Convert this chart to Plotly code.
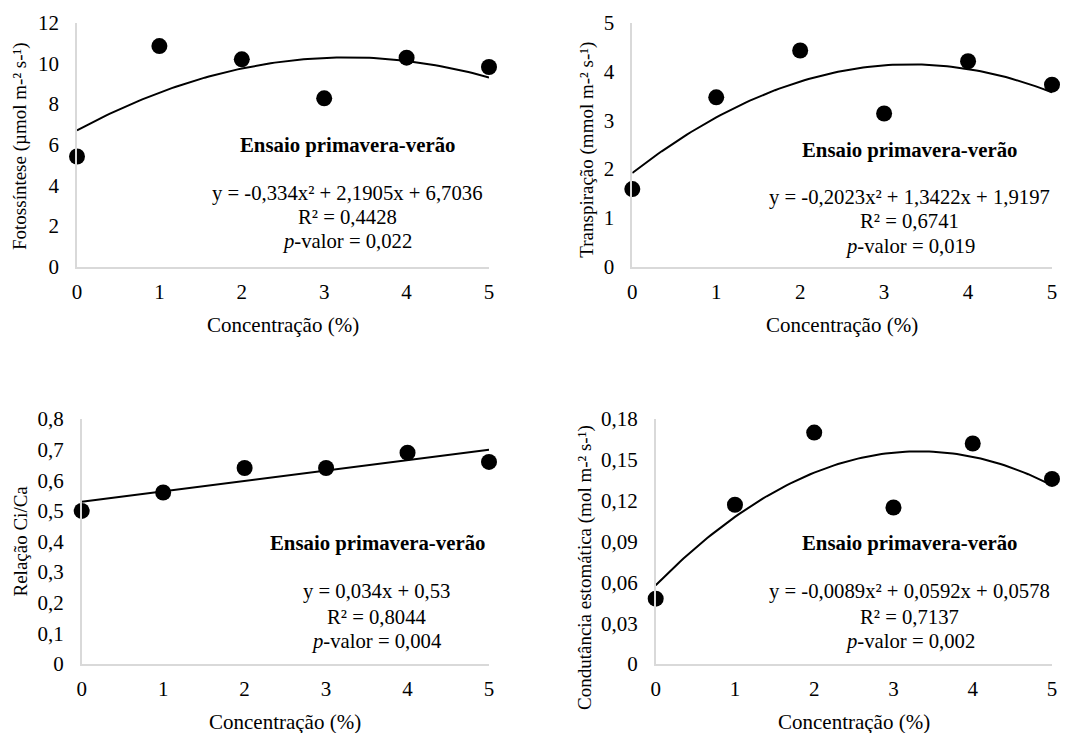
import numpy as np
import plotly.graph_objects as go

W, H = 1084, 733
FONT = "Liberation Serif"

# ---- data ----
conc = [0, 1, 2, 3, 4, 5]
fotossintese = [5.42, 10.85, 10.20, 8.28, 10.28, 9.82]
transpiracao = [1.59, 3.47, 4.43, 3.14, 4.21, 3.73]
ci_ca = [0.50, 0.56, 0.64, 0.64, 0.69, 0.66]
condutancia = [0.048, 0.117, 0.170, 0.115, 0.162, 0.136]

# trendline coefficients (highest power first), as printed on the chart
coef_foto = [-0.334, 2.1905, 6.7036]
coef_trans = [-0.2023, 1.3422, 1.9197]
coef_cica = [0.034, 0.53]
coef_cond = [-0.0089, 0.0592, 0.0578]

eq_foto = ["y = -0,334x² + 2,1905x + 6,7036", "R² = 0,4428", "<i>p</i>-valor = 0,022"]
eq_trans = ["y = -0,2023x² + 1,3422x + 1,9197", "R² = 0,6741", "<i>p</i>-valor = 0,019"]
eq_cica = ["y = 0,034x + 0,53", "R² = 0,8044", "<i>p</i>-valor = 0,004"]
eq_cond = ["y = -0,0089x² + 0,0592x + 0,0578", "R² = 0,7137", "<i>p</i>-valor = 0,002"]

ytitles = ["Fotossíntese (µmol m-² s-¹)", "Transpiração (mmol m-² s-¹)",
           "Relação Ci/Ca", "Condutância estomática (mol m-² s-¹)"]
xtitle = "Concentração (%)"
label = "<b>Ensaio primavera-verão</b>"

yt_foto = [0, 2, 4, 6, 8, 10, 12]
yt_trans = [0, 1, 2, 3, 4, 5]
yt_cica = [0, 0.1, 0.2, 0.3, 0.4, 0.5, 0.6, 0.7, 0.8]
yt_cica_txt = ["0", "0,1", "0,2", "0,3", "0,4", "0,5", "0,6", "0,7", "0,8"]
yt_cond = [0, 0.03, 0.06, 0.09, 0.12, 0.15, 0.18]
yt_cond_txt = ["0", "0,03", "0,06", "0,09", "0,12", "0,15", "0,18"]


def px(x):
    return x / W


def py(y):
    return 1 - y / H


panels = [
    dict(y=fotossintese, coef=coef_foto, eq=eq_foto, title=ytitles[0],
         xd=(77, 489), yd=(22.7, 266.7), yr=[0, 12], tv=yt_foto, tt=[str(v) for v in yt_foto],
         ytx=(20, 146), xtx=(283, 325), lab=(347, 145), eqc=(347, [193.3, 216.7, 241.7])),
    dict(y=transpiracao, coef=coef_trans, eq=eq_trans, title=ytitles[1],
         xd=(632.3, 1052), yd=(22.7, 266.7), yr=[0, 5], tv=yt_trans, tt=[str(v) for v in yt_trans],
         ytx=(586.7, 150), xtx=(842, 325), lab=(909.5, 150), eqc=(909.5, [197.7, 221, 246.7])),
    dict(y=ci_ca, coef=coef_cica, eq=eq_cica, title=ytitles[2],
         xd=(81.7, 489), yd=(419, 664), yr=[0, 0.8], tv=yt_cica, tt=yt_cica_txt,
         ytx=(20, 541.5), xtx=(285, 721.7), lab=(377.8, 543.3), eqc=(376.7, [591.7, 616.7, 641])),
    dict(y=condutancia, coef=coef_cond, eq=eq_cond, title=ytitles[3],
         xd=(655.7, 1052), yd=(419, 664), yr=[0, 0.18], tv=yt_cond, tt=yt_cond_txt,
         ytx=(585, 568), xtx=(854, 721.7), lab=(909.5, 543.3), eqc=(909.5, [591.7, 616.7, 641])),
]

fig = go.Figure()
annotations = []
xfit = np.linspace(0, 5, 101)

for i, p in enumerate(panels, start=1):
    xa = "x" if i == 1 else f"x{i}"
    ya = "y" if i == 1 else f"y{i}"
    fig.add_trace(go.Scatter(x=xfit, y=np.polyval(p["coef"], xfit), mode="lines",
                             line=dict(color="black", width=2), xaxis=xa, yaxis=ya,
                             showlegend=False, hoverinfo="skip"))
    fig.add_trace(go.Scatter(x=conc, y=p["y"], mode="markers",
                             marker=dict(color="black", size=16), xaxis=xa, yaxis=ya,
                             showlegend=False, cliponaxis=False))
    xkey = "xaxis" if i == 1 else f"xaxis{i}"
    ykey = "yaxis" if i == 1 else f"yaxis{i}"
    fig.layout[xkey] = dict(
        domain=[px(p["xd"][0]), px(p["xd"][1])], range=[0, 5], anchor=ya, automargin=False,
        showgrid=False, zeroline=False, showline=True, linecolor="#d9d9d9", linewidth=1.5,
        tickvals=conc, ticktext=[str(c) for c in conc], ticks="outside", ticklen=5,
        tickcolor="rgba(0,0,0,0)", tickfont=dict(family=FONT, size=21, color="black"),
    )
    fig.layout[ykey] = dict(
        domain=[py(p["yd"][1]), py(p["yd"][0])], range=p["yr"], anchor=xa, automargin=False,
        showgrid=False, zeroline=False, showline=True, linecolor="#d9d9d9", linewidth=1.5,
        tickvals=p["tv"], ticktext=p["tt"], ticks="outside", ticklen=12,
        tickcolor="rgba(0,0,0,0)", tickfont=dict(family=FONT, size=21, color="black"),
    )
    annotations.append(dict(x=px(p["ytx"][0]), y=py(p["ytx"][1]), xref="paper", yref="paper",
                            text=p["title"], textangle=-90, showarrow=False,
                            font=dict(family=FONT, size=19, color="black"),
                            xanchor="center", yanchor="middle"))
    annotations.append(dict(x=px(p["xtx"][0]), y=py(p["xtx"][1]), xref="paper", yref="paper",
                            text=xtitle, showarrow=False,
                            font=dict(family=FONT, size=21, color="black"),
                            xanchor="center", yanchor="middle"))
    annotations.append(dict(x=px(p["lab"][0]), y=py(p["lab"][1]), xref="paper", yref="paper",
                            text=label, showarrow=False,
                            font=dict(family=FONT, size=20.8, color="black"),
                            xanchor="center", yanchor="middle"))
    for line, yy in zip(p["eq"], p["eqc"][1]):
        annotations.append(dict(x=px(p["eqc"][0]), y=py(yy), xref="paper", yref="paper",
                                text=line, showarrow=False,
                                font=dict(family=FONT, size=20.7, color="black"),
                                xanchor="center", yanchor="middle"))

fig.update_layout(
    width=W, height=H, margin=dict(l=0, r=0, t=0, b=0, autoexpand=False),
    paper_bgcolor="white", plot_bgcolor="white",
    annotations=annotations, showlegend=False,
)

fig.write_html("out.html", config={"displayModeBar": False},
               post_script="document.body.style.margin='0px';document.body.style.overflow='hidden';")
